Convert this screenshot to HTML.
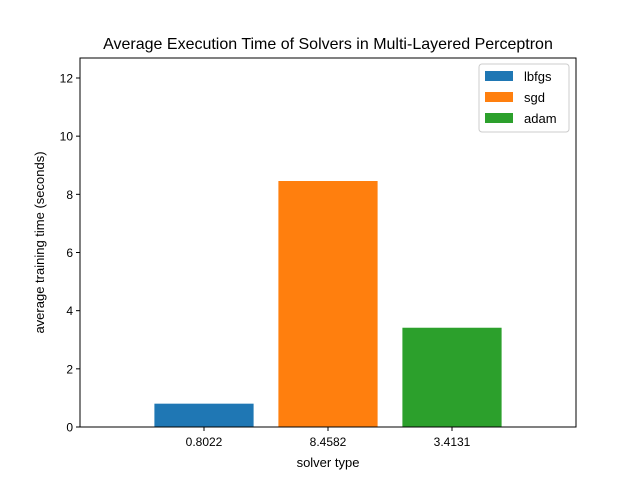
<!DOCTYPE html>
<html><head><meta charset="utf-8"><style>
body{margin:0;background:#fff;}
svg text{font-family:"Liberation Sans","DejaVu Sans",sans-serif;}
</style></head><body>
<svg id="chart" width="640" height="480" xmlns="http://www.w3.org/2000/svg">
<rect width="640" height="480" fill="#fff"/>
<text x="328" y="49" font-size="16" text-anchor="middle" fill="#000">Average Execution Time of Solvers in Multi-Layered Perceptron</text>
<g id="bars"></g>
<rect x="80" y="58" width="496" height="369" fill="none" stroke="#000" stroke-width="1"/>
<g id="xticks"></g><g id="yticks"></g>
<text x="328" y="467" font-size="13" text-anchor="middle">solver type</text>
<text transform="translate(44,242.5) rotate(-90)" font-size="13" text-anchor="middle">average training time (seconds)</text>
<g id="legend"></g>
</svg>
<script>
const categories = ["lbfgs","sgd","adam"];
const values = [0.8022, 8.4582, 3.4131];
const tickLabels = ["0.8022","8.4582","3.4131"];
const yTicks = [0,2,4,6,8,10,12];
const colors = ["#1f77b4","#ff7f0e","#2ca02c"];

const L=80,R=576,T=58,B=427;
const ymax = Math.max(...values)*1.5;
const xs = v => L + (v+1)/4*(R-L);
const ys = v => B - v/ymax*(B-T);
const NS="http://www.w3.org/2000/svg";
function mk(tag,attrs,parent){const e=document.createElementNS(NS,tag);for(const k in attrs)e.setAttribute(k,attrs[k]);parent.appendChild(e);return e;}
const gb=document.getElementById('bars'),gx=document.getElementById('xticks'),gy=document.getElementById('yticks'),gl=document.getElementById('legend');
values.forEach((v,i)=>{
  const x0=xs(i-0.4),x1=xs(i+0.4);
  const r=mk('rect',{x:x0,y:ys(v),width:x1-x0,height:B-ys(v),fill:colors[i]},gb);
  
  
  const t=mk('line',{x1:xs(i),x2:xs(i),y1:B,y2:B+4,stroke:'#000'},gx);
  
  
  const tx=mk('text',{x:xs(i),y:B+19,'font-size':12,'text-anchor':'middle'},gx);
  tx.textContent=tickLabels[i];
  
  
});
yTicks.forEach(v=>{
  const t=mk('line',{x1:L-4,x2:L,y1:ys(v),y2:ys(v),stroke:'#000'},gy);
  
  
  const tx=mk('text',{x:L-7,y:ys(v)+4.5,'font-size':12,'text-anchor':'end'},gy);
  tx.textContent=v;
  
  
});
const box=mk('rect',{x:479,y:64,width:90,height:68,rx:3,fill:'#fff','fill-opacity':0.8,stroke:'#ccc'},gl);


categories.forEach((c,i)=>{
  const y=71+i*21;
  const s=mk('rect',{x:485,y:y,width:28,height:10,fill:colors[i]},gl);
  
  
  const t=mk('text',{x:524,y:y+10,'font-size':13},gl);
  t.textContent=c;
  
  
});
</script>
</body></html>
